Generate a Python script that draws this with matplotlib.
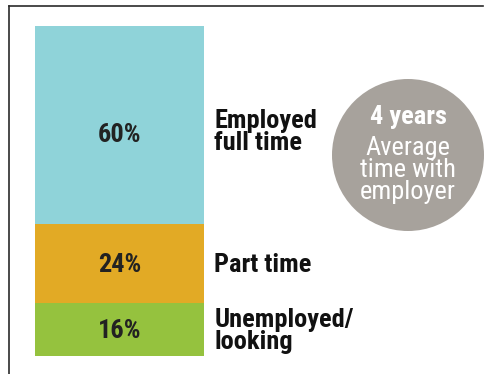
import matplotlib
matplotlib.use("Agg")
import matplotlib.pyplot as plt
from matplotlib.patches import Circle
from matplotlib.lines import Line2D
from matplotlib.transforms import offset_copy

# Employment status after graduation, stacked bottom to top
CATEGORIES = ["Unemployed/\nlooking", "Part time", "Employed\nfull time"]
SHARES = [16, 24, 60]
COLORS = ["#95c23e", "#e2aa25", "#8fd3d9"]

AVG_YEARS = 4
BUBBLE_LINES = ["Average", "time with", "employer"]

plt.rcParams["font.family"] = ["Roboto Condensed", "DejaVu Sans"]

W, H = 488, 374
fig = plt.figure(figsize=(W / 100, H / 100), dpi=100)
fig.patch.set_facecolor("white")

# pixel-space overlay for the frame lines and the bubble
over = fig.add_axes([0, 0, 1, 1])
over.set_xlim(0, W)
over.set_ylim(H, 0)
over.set_aspect("equal")
over.axis("off")
over.add_line(Line2D([9, 9], [6, H], color="#2b2b2b", lw=1.2))
over.add_line(Line2D([9, 483], [6, 6], color="#2b2b2b", lw=1.2))

over.add_patch(Circle((408, 155), 76, color="#a7a29c", lw=0))
over.text(408, 117, f"{AVG_YEARS} years", ha="center", va="center", color="white",
          fontsize=19, fontweight="bold")
over.text(408, 170, "\n".join(BUBBLE_LINES), ha="center", va="center", color="white",
          fontsize=19, linespacing=0.92)

# the stacked bar itself
ax = fig.add_axes([35 / W, (H - 356) / H, 169 / W, 330 / H])
ax.set_xlim(-0.5, 0.5)
ax.set_ylim(0, sum(SHARES))
ax.axis("off")

bottom = 0
for i, (cat, val, col) in enumerate(zip(CATEGORIES, SHARES, COLORS)):
    ax.bar(0, val, width=1, bottom=bottom, color=col, lw=0)
    mid = bottom + val / 2
    # the tall top block carries its labels a little below centre
    top = i == len(SHARES) - 1
    drop_pct = -7 if top else -1
    drop_lab = -5 if top else -1
    ax.text(0, mid, f"{val}%", ha="center", va="center", color="#222222",
            fontsize=19, fontweight="bold",
            transform=offset_copy(ax.transData, fig=fig, y=drop_pct, units="points"))
    ax.text(1.06, mid, cat, ha="left", va="center", color="#111111",
            fontsize=19, fontweight="bold", linespacing=0.92,
            transform=offset_copy(ax.get_yaxis_transform(), fig=fig, y=drop_lab, units="points"))
    bottom += val

fig.savefig("out.png", dpi=100)
